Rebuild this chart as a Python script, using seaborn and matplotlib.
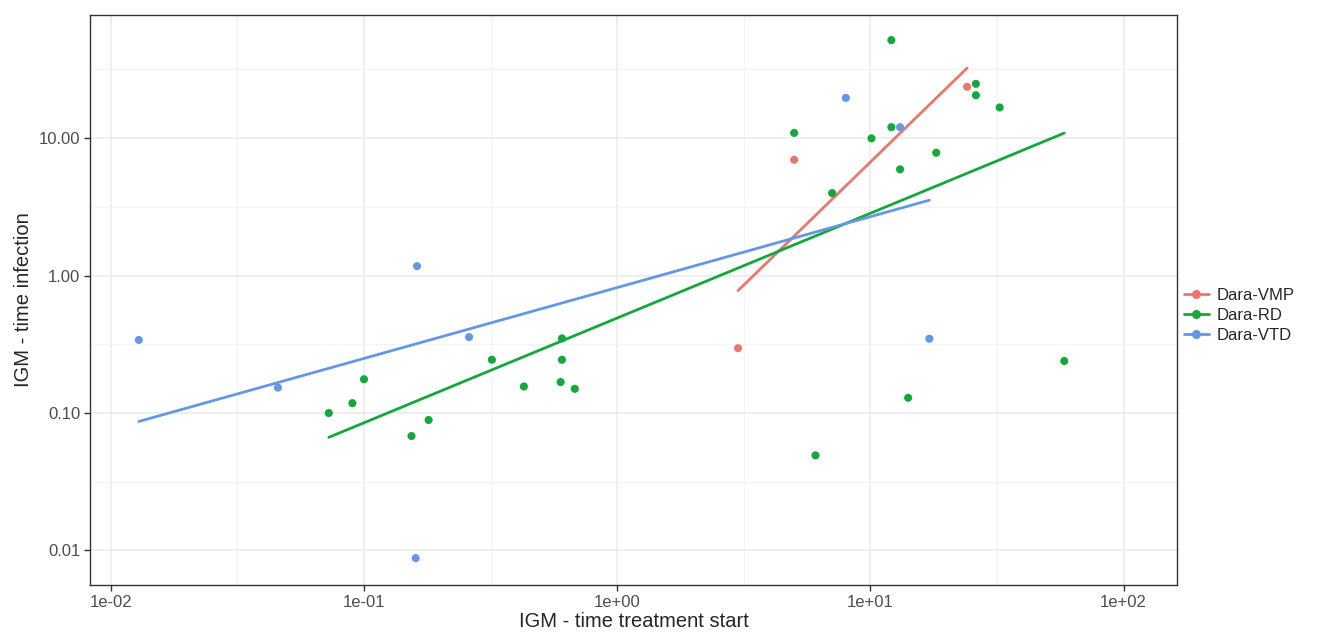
import numpy as np
import pandas as pd
import matplotlib
matplotlib.use("Agg")
import matplotlib.pyplot as plt
from matplotlib.lines import Line2D
import seaborn as sns

# =========================
# DADOS
# =========================
grupos = ["Dara-VMP", "Dara-RD", "Dara-VTD"]
cores = ["#E8776F", "#12A83C", "#6497E6"]

vmp_x = [3.0, 5.0, 24.1]
vmp_y = [0.296, 6.95, 23.6]

rd_x = [0.0726, 0.090, 0.100, 0.154, 0.180, 0.32, 0.428, 0.598, 0.605, 0.605, 0.68,
        6.07, 14.1, 58.3, 12.1, 26.1, 26.1, 32.4, 5.0, 12.1, 10.1, 18.2, 13.1, 7.06]
rd_y = [0.100, 0.118, 0.176, 0.068, 0.089, 0.244, 0.156, 0.168, 0.244, 0.349, 0.150,
        0.0492, 0.129, 0.239, 51.6, 24.8, 20.5, 16.7, 10.9, 12.0, 9.95, 7.82, 5.92, 3.98]

vtd_x = [0.0129, 0.0457, 0.162, 0.26, 0.160, 8.0, 13.1, 17.1]
vtd_y = [0.34, 0.153, 1.17, 0.357, 0.0088, 19.6, 12.0, 0.347]

x_ticks = [-2, -1, 0, 1, 2]
y_ticks = [-2, -1, 0, 1]

df = pd.concat([
    pd.DataFrame({"x": vmp_x, "y": vmp_y, "grupo": "Dara-VMP"}),
    pd.DataFrame({"x": rd_x, "y": rd_y, "grupo": "Dara-RD"}),
    pd.DataFrame({"x": vtd_x, "y": vtd_y, "grupo": "Dara-VTD"}),
])
# escala log10 (como scale_x_log10 do ggplot)
df["lx"] = np.log10(df["x"])
df["ly"] = np.log10(df["y"])

# =========================
# GRÁFICO
# =========================
sns.set_theme(style="white")
plt.rcParams["font.family"] = ["Liberation Sans", "DejaVu Sans"]

fig = plt.figure(figsize=(13.28, 6.34), dpi=100)
ax = fig.add_axes([0.0678, 0.0773, 0.8185, 0.899])

# grade maior e menor
for k in x_ticks:
    ax.axvline(k, color="#EBEBEB", lw=1.1, zorder=0)
for k in np.arange(-2.5, 2.6, 1):
    ax.axvline(k, color="#F2F2F2", lw=0.6, zorder=0)
for k in y_ticks:
    ax.axhline(k, color="#EBEBEB", lw=1.1, zorder=0)
for k in np.arange(-2.5, 2.0, 1):
    ax.axhline(k, color="#F2F2F2", lw=0.6, zorder=0)

sns.scatterplot(data=df, x="lx", y="ly", hue="grupo", hue_order=grupos,
                palette=cores, s=34, linewidth=0, legend=False, ax=ax, zorder=3)

for g, c in zip(grupos, cores):
    sub = df[df["grupo"] == g]
    sns.regplot(data=sub, x="lx", y="ly", scatter=False, ci=None,
                color=c, line_kws={"lw": 2}, ax=ax)

ax.set_xlim(-2.082, 2.211)
ax.set_ylim(-2.251, 1.895)
ax.set_xticks(x_ticks)
ax.set_xticklabels([f"{10.0**k:.0e}" for k in x_ticks])
ax.set_yticks(y_ticks)
ax.set_yticklabels([f"{10.0**k:.2f}" for k in y_ticks])
ax.tick_params(axis="both", length=4, width=1, color="#333333", pad=3,
               labelsize=12, labelcolor="#4D4D4D", direction="out", bottom=True, left=True)

for s in ax.spines.values():
    s.set_color("#333333")
    s.set_linewidth(1)

ax.set_xlabel("IGM - time treatment start", fontsize=14.5, labelpad=2)
ax.set_ylabel("IGM - time infection", fontsize=14.5, labelpad=4)

handles = [Line2D([0], [0], color=c, lw=2, marker="o", markersize=5.5) for c in cores]
fig.legend(handles, grupos, loc="center left", bbox_to_anchor=(0.88, 0.503),
           frameon=False, fontsize=12, handlelength=1.5, handletextpad=0.5,
           labelspacing=0.3)

plt.savefig("out.png", dpi=100)
